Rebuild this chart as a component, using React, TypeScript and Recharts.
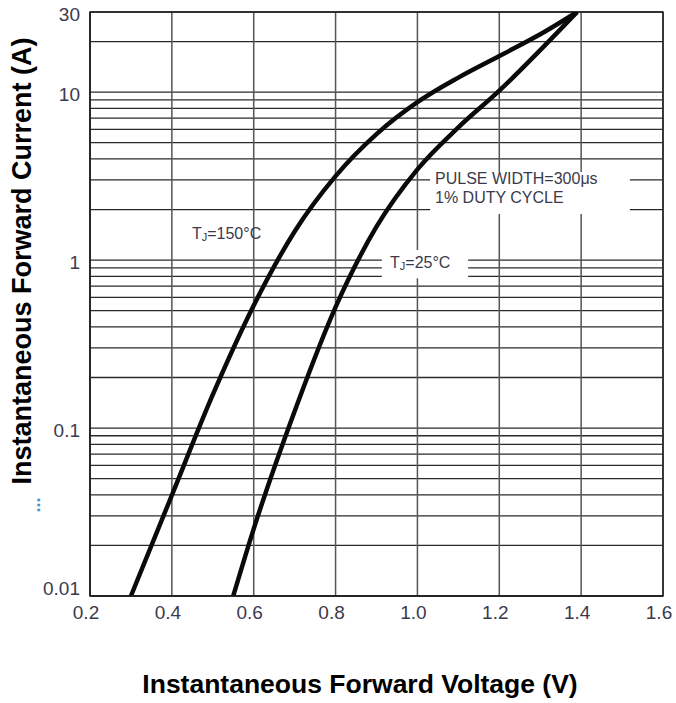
import React from "react";
import {
  LineChart,
  Line,
  XAxis,
  YAxis,
  CartesianGrid,
  ReferenceArea,
  ReferenceDot,
} from "recharts";

// Forward voltage (V) / current (A) for Tj = 150 °C
const v150 = [0.3, 0.4, 0.5, 0.6, 0.7, 0.8, 0.9, 1.0, 1.1, 1.2, 1.3, 1.39];
const i150 = [0.01, 0.0398, 0.158, 0.537, 1.48, 3.16, 5.62, 8.71, 12.2, 16.4, 22.1, 30];

// Forward voltage (V) / current (A) for Tj = 25 °C
const v25 = [0.55, 0.6, 0.7, 0.8, 0.9, 1.0, 1.1, 1.2, 1.3, 1.39];
const i25 = [0.01, 0.0251, 0.126, 0.525, 1.58, 3.47, 6.17, 10.2, 17.8, 30];

const xTicks = [0.2, 0.4, 0.6, 0.8, 1.0, 1.2, 1.4, 1.6];
const yLabelTicks = [0.01, 0.1, 1, 10, 30];
const yGridTicks = [
  0.01, 0.02, 0.03, 0.04, 0.05, 0.06, 0.07, 0.08, 0.09,
  0.1, 0.2, 0.3, 0.4, 0.5, 0.6, 0.7, 0.8, 0.9,
  1, 2, 3, 4, 5, 6, 7, 8, 9,
  10, 20, 30,
];

// annotation anchors (V, A)
const label150 = { v: 0.449, i: 1.41 };
const label25 = { v: 0.933, i: 0.946 };
const labelPulse = { v: 1.043, i: 3.0, i2: 2.31 };
// white masks behind annotations [v1, v2, i1, i2]
const mask25 = [0.913, 1.124, 0.78, 1.15];
const maskPulse = [1.031, 1.519, 1.88, 3.34];

const data150 = v150.map((v, k) => ({ v, i: i150[k] }));
const data25 = v25.map((v, k) => ({ v, i: i25[k] }));

const FONT = "'Liberation Sans', Arial, Helvetica, sans-serif";
const TXT = "#3a3a4c";

const YTick = (props: any) => {
  const { x, y, payload } = props;
  const val = payload.value;
  const idx = yLabelTicks.findIndex((t) => Math.abs(t - val) < 1e-9);
  if (idx < 0) return <g />;
  const dy = val === 0.01 ? -6 : 4;
  return (
    <text x={x} y={y + dy} textAnchor="end" dominantBaseline="middle" fontFamily={FONT} fontSize={19} fill={TXT}>
      {String(val)}
    </text>
  );
};

const XTick = (props: any) => {
  const { x, y, payload } = props;
  return (
    <text x={x - 4} y={y} dy={15} textAnchor="middle" fontFamily={FONT} fontSize={19} fill={TXT}>
      {Number(payload.value).toFixed(1)}
    </text>
  );
};

const anno = (lines: React.ReactNode) => (props: any) => {
  const vb = props.viewBox || {};
  const x = vb.x + (vb.width || 0) / 2;
  const y = vb.y + (vb.height || 0) / 2;
  return (
    <text x={x} y={y} dominantBaseline="middle" textAnchor="start" fontFamily={FONT} fontSize={16} fill={TXT}>
      {lines}
    </text>
  );
};

export default function App() {
  return (
    <div style={{ position: "absolute", left: 8, top: 0, width: 668, height: 703 }}>
      <LineChart
        width={668}
        height={703}
        margin={{ top: 12, right: 13, left: 0, bottom: 67 }}
        style={{ background: "#fff" }}
      >
        <CartesianGrid vertical={false} stroke="#2a2a2a" strokeWidth={1.3} />
        <CartesianGrid horizontal={false} stroke="#555" strokeWidth={1.5} />
        <XAxis
          type="number"
          dataKey="v"
          domain={[0.2, 1.6]}
          ticks={xTicks}
          allowDataOverflow
          axisLine={{ stroke: "#222", strokeWidth: 1.5 }}
          tickLine={false}
          height={40}
          tick={<XTick />}
          label={{
            content: (p: any) => {
              const vb = p.viewBox;
              return (
                <text x={vb.x + 270} y={693} textAnchor="middle" fontFamily={FONT} fontWeight="bold" fontSize={26.5} fill="#000">
                  Instantaneous Forward Voltage (V)
                </text>
              );
            },
          }}
        />
        <YAxis
          type="number"
          dataKey="i"
          scale="log"
          domain={[0.01, 30]}
          ticks={yGridTicks}
          interval={0}
          allowDataOverflow
          width={82}
          axisLine={{ stroke: "#222", strokeWidth: 1.5 }}
          tickLine={false}
          tickMargin={4}
          tick={<YTick />}
          label={{
            content: (p: any) => {
              const vb = p.viewBox;
              const cx = vb.x + 16;
              const cy = vb.y + 249;
              return (
                <g>
                  <text
                    x={cx}
                    y={cy}
                    transform={`rotate(-90 ${cx} ${cy})`}
                    textAnchor="middle"
                    dominantBaseline="middle"
                    fontFamily={FONT}
                    fontWeight="bold"
                    fontSize={27}
                    fill="#000"
                  >
                    Instantaneous Forward Current (A)
                  </text>
                  <text
                    x={cx + 11}
                    y={cy + 244}
                    transform={`rotate(-90 ${cx + 11} ${cy + 244})`}
                    textAnchor="middle"
                    dominantBaseline="middle"
                    fontFamily={FONT}
                    fontWeight="bold"
                    fontSize={18}
                    fill="#4a8fd8"
                  >
                    ...
                  </text>
                </g>
              );
            },
          }}
        />
        <ReferenceArea
          x1={mask25[0]}
          x2={mask25[1]}
          y1={mask25[2]}
          y2={mask25[3]}
          fill="#fff"
          fillOpacity={1}
          stroke="none"
        />
        <ReferenceArea
          x1={maskPulse[0]}
          x2={maskPulse[1]}
          y1={maskPulse[2]}
          y2={maskPulse[3]}
          fill="#fff"
          fillOpacity={1}
          stroke="none"
        />
        <ReferenceArea
          x1={0.2}
          x2={1.6}
          y1={0.01}
          y2={30}
          fill="none"
          stroke="#222"
          strokeWidth={1.5}
        />
        <ReferenceDot
          x={label150.v}
          y={label150.i}
          r={0}
          fill="none"
          stroke="none"
          label={{
            content: anno(
              <>
                <tspan>T</tspan>
                <tspan fontSize={11} dy={3}>J</tspan>
                <tspan dy={-3}>=150°C</tspan>
              </>
            ),
          }}
        />
        <ReferenceDot
          x={label25.v}
          y={label25.i}
          r={0}
          fill="none"
          stroke="none"
          label={{
            content: anno(
              <>
                <tspan>T</tspan>
                <tspan fontSize={11} dy={3}>J</tspan>
                <tspan dy={-3}>=25°C</tspan>
              </>
            ),
          }}
        />
        <ReferenceDot
          x={labelPulse.v}
          y={labelPulse.i}
          r={0}
          fill="none"
          stroke="none"
          label={{ content: anno("PULSE WIDTH=300μs") }}
        />
        <ReferenceDot
          x={labelPulse.v}
          y={labelPulse.i2}
          r={0}
          fill="none"
          stroke="none"
          label={{ content: anno("1% DUTY CYCLE") }}
        />
        <Line
          data={data150}
          dataKey="i"
          type="monotone"
          stroke="#0a0a0a"
          strokeWidth={4.5}
          dot={false}
          isAnimationActive={false}
        />
        <Line
          data={data25}
          dataKey="i"
          type="monotone"
          stroke="#0a0a0a"
          strokeWidth={4.5}
          dot={false}
          isAnimationActive={false}
        />
      </LineChart>
    </div>
  );
}
